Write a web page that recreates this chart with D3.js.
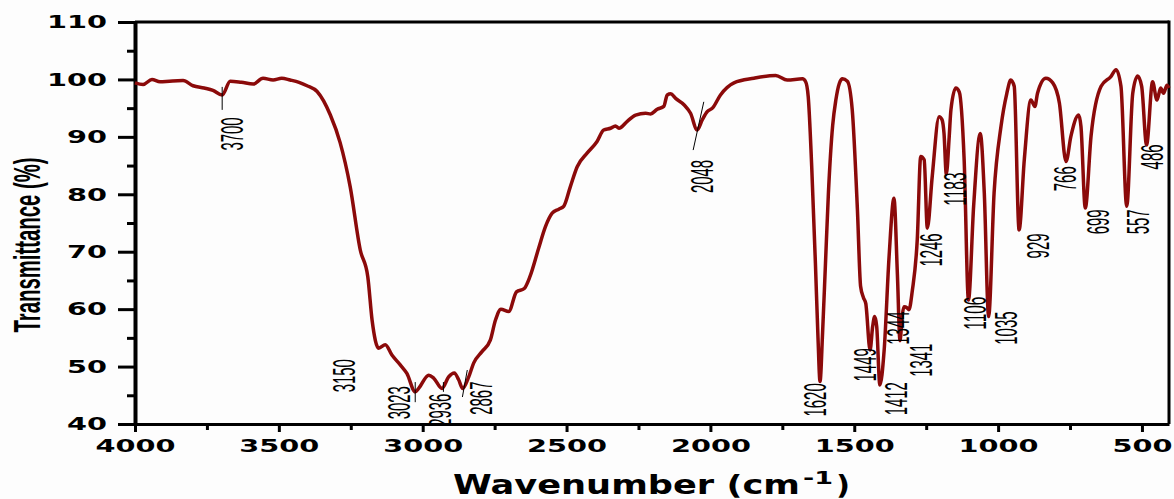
<!DOCTYPE html>
<html>
<head>
<meta charset="utf-8">
<script src="https://cdn.jsdelivr.net/npm/d3@7"></script>
<style>
body { margin: 0; background: #fdfdfd; }
</style>
</head>
<body>
<div id="chart"></div>
<script>
// FTIR spectrum
var wavenumber = [4000, 3972, 3941, 3913, 3880, 3833, 3798, 3760, 3729, 3697, 3669, 3630, 3589, 3555, 3520, 3490, 3461, 3430, 3402, 3367,
  3321, 3287, 3252, 3217, 3191, 3176, 3153, 3130, 3107, 3078, 3055, 3026, 3014, 2979, 2962, 2933, 2910, 2890, 2875, 2861,
  2840, 2823, 2794, 2765, 2747, 2728, 2701, 2674, 2647, 2627, 2597, 2573, 2550, 2527, 2510, 2487, 2463, 2428, 2394, 2371,
  2347, 2330, 2318, 2289, 2260, 2225, 2208, 2185, 2162, 2150, 2138, 2121, 2092, 2069, 2046, 2028, 2011, 1993, 1965, 1918,
  1849, 1773, 1733, 1680, 1669, 1660, 1648, 1635, 1626, 1619, 1610, 1600, 1590, 1575, 1564, 1552, 1541, 1524, 1507, 1489,
  1478, 1468, 1460, 1445, 1436, 1429, 1422, 1411, 1396, 1379, 1362, 1350, 1341, 1333, 1327, 1316, 1310, 1298, 1281, 1269,
  1257, 1246, 1229, 1205, 1195, 1188, 1180, 1170, 1164, 1147, 1135, 1118, 1103, 1085, 1062, 1048, 1033, 1014, 990, 970,
  956, 944, 927, 909, 886, 872, 863, 834, 810, 787, 764, 747, 720, 712, 697, 677, 642, 608, 590, 573,
  553, 532, 515, 501, 484, 463, 448, 435, 425, 413, 406];
var transmittance = [99.4, 99.1, 100.0, 99.6, 99.7, 99.8, 98.9, 98.5, 98.1, 97.3, 99.7, 99.5, 99.2, 100.2, 99.9, 100.2, 99.9, 99.5, 98.9, 97.9,
  93.8, 89.0, 81.3, 70.3, 65.7, 58.1, 53.2, 53.8, 52.0, 50.3, 48.8, 45.6, 46.2, 48.5, 48.0, 46.2, 48.2, 48.9, 47.7, 46.2,
  48.2, 50.6, 52.6, 54.6, 58.1, 60.0, 59.6, 63.0, 63.6, 65.7, 70.6, 74.4, 76.7, 77.4, 77.9, 81.3, 84.8, 87.2, 89.2, 91.2,
  91.5, 91.9, 91.5, 92.7, 93.8, 94.1, 94.0, 94.8, 95.3, 97.3, 97.5, 96.7, 95.6, 94.1, 91.2, 93.0, 94.4, 95.0, 97.3, 99.4,
  100.2, 100.7, 99.9, 100.1, 99.6, 97.0, 85.0, 68.0, 55.0, 47.4, 56.0, 68.0, 80.0, 92.0, 96.4, 99.3, 100.1, 99.7, 94.7, 77.3,
  64.0, 62.0, 61.0, 52.9, 57.0, 58.7, 57.0, 46.8, 52.9, 69.1, 79.3, 66.0, 54.5, 59.0, 60.4, 60.2, 59.9, 63.3, 72.1, 86.6,
  86.0, 74.1, 83.1, 93.5, 93.0, 90.6, 83.5, 90.0, 94.7, 98.5, 97.8, 86.0, 61.6, 78.0, 90.6, 80.2, 58.7, 80.2, 91.8, 97.5,
  99.9, 98.8, 73.8, 86.0, 96.4, 95.3, 97.6, 100.2, 99.4, 95.9, 85.7, 90.1, 93.8, 91.8, 77.6, 90.1, 98.8, 100.5, 101.7, 98.8,
  77.9, 97.6, 100.6, 98.8, 88.6, 99.6, 96.4, 98.5, 97.6, 99.0, 98.5];

// peak annotations (label centre in data units)
var peakNames = ["3700", "3150", "3023", "2936", "2867", "2048", "1620", "1449", "1412", "1344",
  "1341", "1246", "1183", "1106", "1035", "929", "766", "699", "557", "486"];
var peakLabelWave = [3666, 3276, 3085, 2942, 2800, 2032, 1637, 1463, 1356, 1349,
  1269, 1234, 1150, 1081, 973, 862, 771, 653, 514, 468];
var peakLabelT = [90.5, 48.4, 43.7, 42.4, 44.5, 83.1, 44.2, 50.3, 44.4, 56.7,
  51.1, 70.3, 80.9, 59.3, 56.7, 71.0, 82.7, 75.2, 75.2, 86.5];
// leader lines: wave1, T1, wave2, T2
var leaderLines = [[3697, 98.7, 3697, 94.7], [3026, 47.3, 3026, 43.8], [2928, 47.3, 2928, 45.6],
  [2845, 49.4, 2862, 44.7], [2023, 96.1, 2060, 87.7]];

var yTicks = [40, 50, 60, 70, 80, 90, 100, 110];
var yMinorTicks = [45, 55, 65, 75, 85, 95, 105];
var xTicks = [4000, 3500, 3000, 2500, 2000, 1500, 1000, 500];
var xMinorTicks = [3750, 3250, 2750, 2250, 1750, 1250, 750];

var width = 1174, height = 499;
var plotLeft = 135, plotRight = 1169, plotTop = 22, plotBottom = 424;

var svg = d3.select("#chart").append("svg")
    .attr("width", width).attr("height", height);

var x = d3.scaleLinear().domain([4000, 406]).range([plotLeft, plotRight]);
var y = d3.scaleLinear().domain([40, 110]).range([plotBottom, plotTop]);

var numFont = "DejaVu Sans, sans-serif";
var narrowFont = "Liberation Sans, Arial, sans-serif";

// frame (top and right)
svg.append("line").attr("x1", plotLeft).attr("x2", plotRight).attr("y1", plotTop).attr("y2", plotTop)
    .attr("stroke", "#000").attr("stroke-width", 3);
svg.append("line").attr("x1", plotRight).attr("x2", plotRight).attr("y1", plotTop - 1.5).attr("y2", plotBottom)
    .attr("stroke", "#000").attr("stroke-width", 3);

// minor ticks
svg.append("g").attr("transform", "translate(" + plotLeft + ",0)")
    .call(d3.axisLeft(y).tickValues(yMinorTicks).tickSize(8).tickSizeOuter(0).tickFormat(""))
    .call(function(g) { g.select(".domain").remove(); })
    .selectAll("line").attr("stroke-width", 3);
svg.append("g").attr("transform", "translate(0," + plotBottom + ")")
    .call(d3.axisBottom(x).tickValues(xMinorTicks).tickSize(6).tickSizeOuter(0).tickFormat(""))
    .call(function(g) { g.select(".domain").remove(); })
    .selectAll("line").attr("stroke-width", 3);

// y axis
var yAxis = svg.append("g").attr("transform", "translate(" + plotLeft + ",0)")
    .call(d3.axisLeft(y).tickValues(yTicks).tickSize(17).tickSizeOuter(0).tickPadding(11)
        .tickFormat(d3.format("d")));
yAxis.select(".domain").attr("stroke-width", 4);
yAxis.selectAll("line").attr("stroke-width", 3);
yAxis.selectAll("text")
    .attr("font-family", numFont).attr("font-weight", "bold").attr("font-size", 18)
    .attr("fill", "#000")
    .attr("textLength", function(d) { return String(d).length * 20; })
    .attr("lengthAdjust", "spacingAndGlyphs");

// x axis
var xAxis = svg.append("g").attr("transform", "translate(0," + plotBottom + ")")
    .call(d3.axisBottom(x).tickValues(xTicks).tickSize(8).tickSizeOuter(0).tickPadding(7)
        .tickFormat(d3.format("d")));
xAxis.select(".domain").attr("stroke-width", 3);
xAxis.selectAll("line").attr("stroke-width", 3);
xAxis.selectAll("text")
    .attr("font-family", numFont).attr("font-weight", "bold").attr("font-size", 18)
    .attr("fill", "#000")
    .attr("textLength", function(d) { return String(d).length * 20; })
    .attr("lengthAdjust", "spacingAndGlyphs");

// spectrum
var points = wavenumber.map(function(w, i) { return [w, transmittance[i]]; });
var line = d3.line()
    .x(function(d) { return x(d[0]); })
    .y(function(d) { return y(d[1]); })
    .curve(d3.curveMonotoneX);
svg.append("path").datum(points)
    .attr("d", line)
    .attr("fill", "none")
    .attr("stroke", "#8b0a0a")
    .attr("stroke-width", 3.5)
    .attr("stroke-linejoin", "round");

// leader lines
svg.selectAll(".leader").data(leaderLines).enter().append("line")
    .attr("class", "leader")
    .attr("x1", function(d) { return x(d[0]); })
    .attr("y1", function(d) { return y(d[1]); })
    .attr("x2", function(d) { return x(d[2]); })
    .attr("y2", function(d) { return y(d[3]); })
    .attr("stroke", "#000").attr("stroke-width", 1);

// peak labels
svg.selectAll(".peak").data(peakNames).enter().append("text")
    .attr("class", "peak")
    .attr("transform", function(d, i) {
        return "translate(" + x(peakLabelWave[i]) + "," + y(peakLabelT[i]) + ") rotate(-90)";
    })
    .attr("dy", "0.36em")
    .attr("text-anchor", "middle")
    .attr("font-family", narrowFont)
    .attr("font-size", 32)
    .attr("fill", "#000")
    .attr("textLength", function(d) { return d.length * 8.3; })
    .attr("lengthAdjust", "spacingAndGlyphs")
    .text(function(d) { return d; });

// axis titles
svg.append("text")
    .attr("transform", "translate(27,245) rotate(-90)")
    .attr("dy", "0.36em")
    .attr("text-anchor", "middle")
    .attr("font-family", narrowFont).attr("font-weight", "bold").attr("font-size", 36)
    .attr("textLength", 175).attr("lengthAdjust", "spacingAndGlyphs")
    .text("Transmittance (%)");

var xTitle = svg.append("g").attr("font-family", numFont).attr("font-weight", "bold");
xTitle.append("text").attr("x", 453).attr("y", 494).attr("font-size", 26)
    .attr("textLength", 347).attr("lengthAdjust", "spacingAndGlyphs")
    .text("Wavenumber (cm");
xTitle.append("text").attr("x", 803).attr("y", 484).attr("font-size", 18)
    .attr("textLength", 30).attr("lengthAdjust", "spacingAndGlyphs")
    .text("-1");
xTitle.append("text").attr("x", 836).attr("y", 494).attr("font-size", 26)
    .attr("textLength", 14).attr("lengthAdjust", "spacingAndGlyphs")
    .text(")");
</script>
</body>
</html>
